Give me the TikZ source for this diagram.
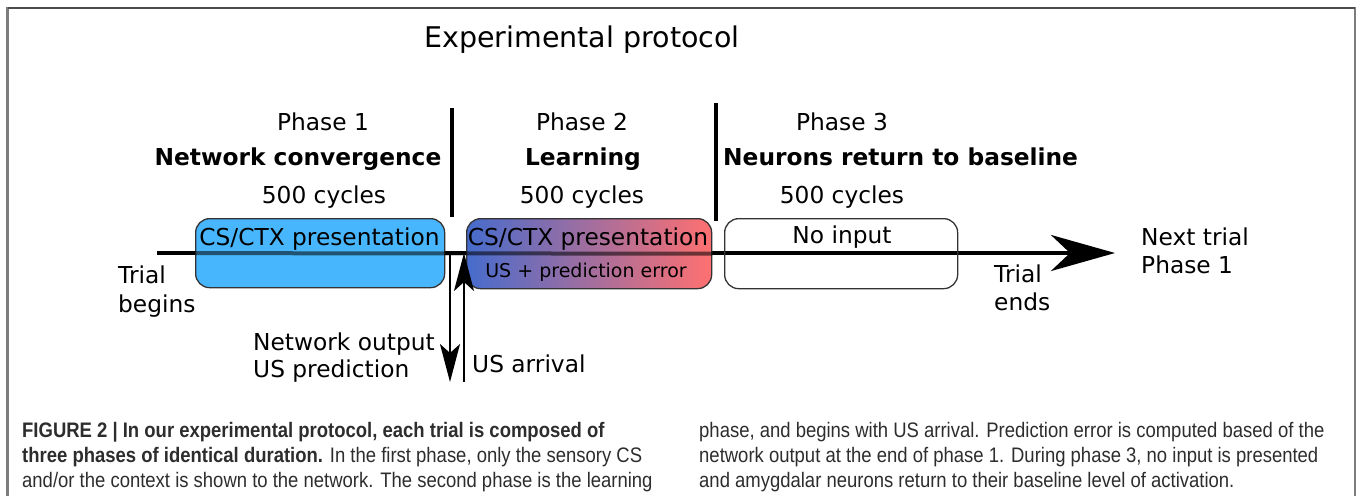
\documentclass[tikz,border=0pt]{standalone}
\usepackage{fontspec}
\setmainfont{DejaVu Sans}
\newfontfamily\capfont{Liberation Sans}[FakeStretch=0.88]
\usepackage{tikz}
\usetikzlibrary{arrows.meta}
\definecolor{csblue}{RGB}{72,182,252}
\definecolor{lrnblue}{RGB}{70,108,205}
\definecolor{lrnred}{RGB}{255,112,112}
\definecolor{framegray}{RGB}{125,125,125}
\definecolor{captext}{RGB}{45,45,45}

\begin{document}
\begin{tikzpicture}[x=1pt,y=-1pt]
\tikzstyle{lbl}=[inner sep=0pt,anchor=base,font=\fontsize{23.3}{28}\selectfont]
\tikzstyle{boldlbl}=[lbl,font=\fontsize{23.3}{28}\selectfont\bfseries]
\tikzstyle{phasebox}=[draw=black!80,line width=1.3pt,rounded corners=14pt,inner sep=0pt,anchor=north west]
\tikzstyle{bar}=[line width=4pt]
\tikzstyle{capline}=[inner sep=0pt,anchor=base west,text=captext,font=\capfont\fontsize{21}{25}\selectfont]
\useasboundingbox (0,0) rectangle (1358,496);
% frame
\draw[framegray,line width=2.5pt] (7.5,496) -- (7.5,8) -- (1355,8) -- (1355,496);
\draw[black!70,line width=1.5pt] (7.5,8) -- (1355,8);

\node[lbl,font=\fontsize{28.5}{33}\selectfont] (title) at (582,47) {Experimental protocol};

% phase headings
\node[lbl] (ph1) at (323,130) {Phase 1};
\node[boldlbl] (ph1name) at (298,165) {Network convergence};
\node[lbl] (ph1cyc) at (324,203) {500 cycles};
\node[lbl] (ph2) at (582,130) {Phase 2};
\node[boldlbl] (ph2name) at (583,165) {Learning};
\node[lbl] (ph2cyc) at (582,203) {500 cycles};
\node[lbl] (ph3) at (842,130) {Phase 3};
\node[boldlbl,anchor=base west] (ph3name) at (723,165) {Neurons return to baseline};
\node[lbl] (ph3cyc) at (842,203) {500 cycles};

\coordinate (sep1top) at (452,108);
\coordinate (sep1bot) at (452,217);
\coordinate (sep2top) at (716,103);
\coordinate (sep2bot) at (716,221);
\draw[bar] (sep1top) -- (sep1bot);
\draw[bar] (sep2top) -- (sep2bot);

% time line
\coordinate (start) at (157,253);
\coordinate (end) at (1115,253);
\draw[line width=4pt,-{Stealth[length=64pt,width=36pt,inset=19pt]}] (start) -- (end);

\node[phasebox,fill=csblue,minimum width=249pt,minimum height=69pt] (box1) at (195,218) {};
\node[phasebox,left color=lrnblue,right color=lrnred,minimum width=245pt,minimum height=70pt] (box2) at (466,218) {};
\node[phasebox,minimum width=233pt,minimum height=70pt] (box3) at (724,218) {};
\draw[line width=4pt,opacity=0.55] (box1.west) -- (box2.east);

\node[lbl] (cs1) at (319.5,245) {CS/CTX presentation};
\node[lbl] (cs2) at (588,245) {CS/CTX presentation};
\node[lbl,font=\fontsize{19}{23}\selectfont] (uspe) at (586,277) {US + prediction error};
\node[lbl] (noin) at (842,243) {No input};

% output and arrival
\coordinate (outtop) at (450,253);
\coordinate (outbot) at (450,382);
\coordinate (usbot) at (464,382);
\coordinate (ustop) at (464,253);
\draw[line width=2.5pt,-{Stealth[length=38pt,width=20pt,inset=9pt]}] (outtop) -- (outbot);
\draw[line width=2.5pt,-{Stealth[length=38pt,width=20pt,inset=9pt]}] (usbot) -- (ustop);

\node[lbl,anchor=base west] (netout) at (253,350) {Network output};
\node[lbl,anchor=base west] (uspred) at (253,377) {US prediction};
\node[lbl,anchor=base west] (usarr) at (472,372) {US arrival};

\node[lbl,anchor=base west] (tb1) at (118,283) {Trial};
\node[lbl,anchor=base west] (tb2) at (118,312) {begins};
\node[lbl,anchor=base west] (te1) at (994,282) {Trial};
\node[lbl,anchor=base west] (te2) at (994,310) {ends};
\node[lbl,anchor=base west] (nt1) at (1141,245) {Next trial};
\node[lbl,anchor=base west] (nt2) at (1141,273) {Phase 1};

% caption
\node[capline] (capl1) at (22,437) {\bfseries FIGURE 2 | In our experimental protocol, each trial is composed of};
\node[capline] (capl2) at (22,462) {\textbf{three phases of identical duration.} In the first phase, only the sensory CS};
\node[capline] (capl3) at (22,487) {and/or the context is shown to the network. The second phase is the learning};
\node[capline] (capr1) at (699,437) {phase, and begins with US arrival. Prediction error is computed based of the};
\node[capline] (capr2) at (699,462) {network output at the end of phase 1. During phase 3, no input is presented};
\node[capline] (capr3) at (699,487) {and amygdalar neurons return to their baseline level of activation.};
\end{tikzpicture}
\end{document}
